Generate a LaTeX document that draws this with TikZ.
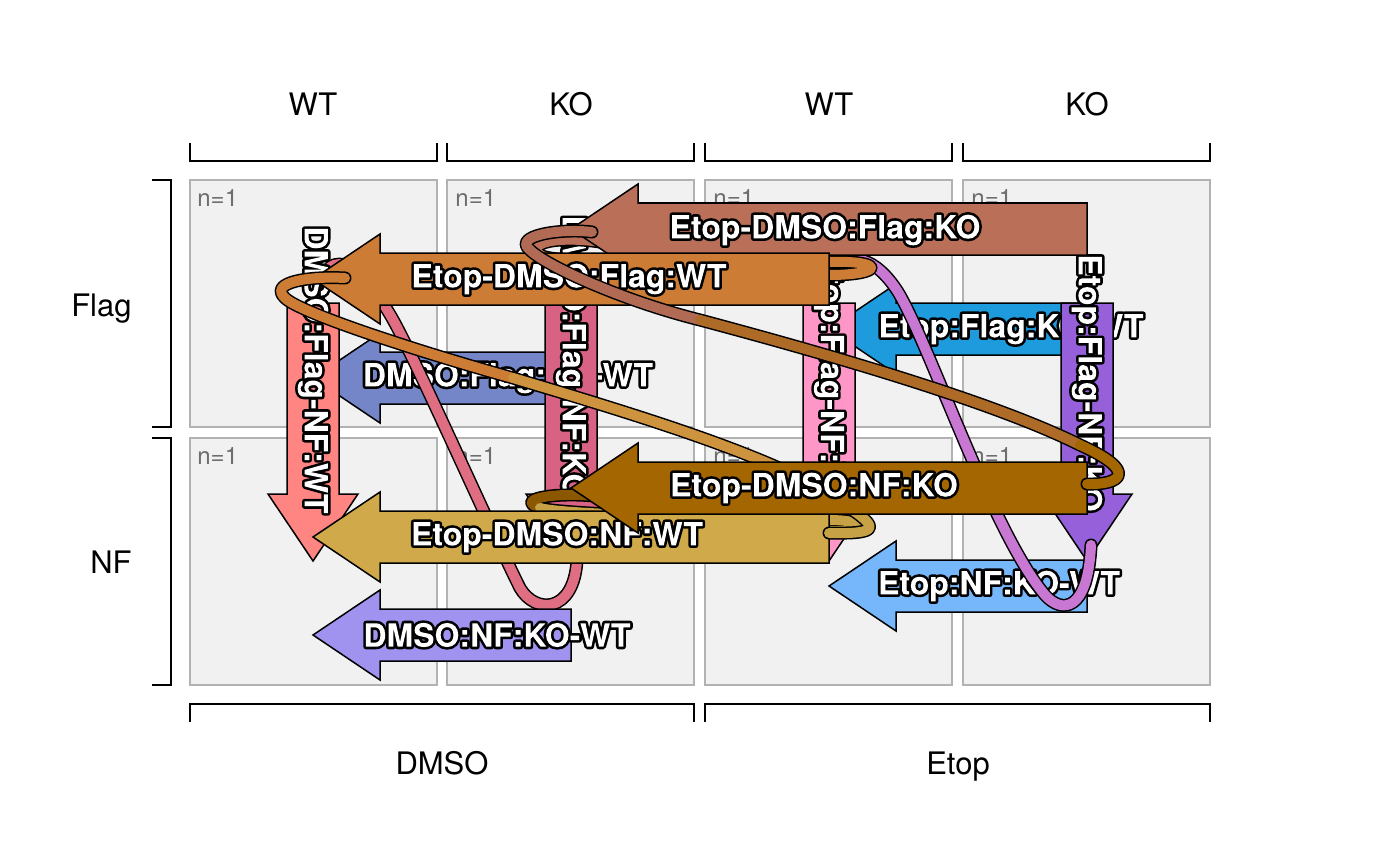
\documentclass[tikz,border=0pt]{standalone}
\usepackage{fontspec}
\setmainfont{TeX Gyre Heros}
\usepackage{xcolor}
\usepackage{tikz}
\usetikzlibrary{positioning}

% panel and axis colours
\definecolor{panelfill}{RGB}{241,241,241}
\definecolor{panelline}{RGB}{178,178,178}
\definecolor{ngray}{RGB}{110,110,110}
% contrast colours
\definecolor{cDFKW}{RGB}{117,134,200}
\definecolor{cEFKW}{RGB}{30,155,220}
\definecolor{cDNKW}{RGB}{160,147,240}
\definecolor{cENKW}{RGB}{118,182,250}
\definecolor{cDFNW}{RGB}{255,133,130}
\definecolor{cDFNK}{RGB}{216,98,132}
\definecolor{cEFNW}{RGB}{255,150,200}
\definecolor{cEFNK}{RGB}{150,96,218}
\definecolor{cEDFK}{RGB}{186,112,88}
\definecolor{cEDFW}{RGB}{204,124,52}
\definecolor{cEDNK}{RGB}{164,102,0}
\definecolor{cEDNW}{RGB}{208,170,74}
\definecolor{cbandP}{RGB}{224,110,130}
\definecolor{cbandO}{RGB}{200,120,210}

\tikzset{
  panel/.style={fill=panelfill, draw=panelline, line width=0.8pt},
  bracket/.style={line width=0.8pt, black},
  axislab/.style={font=\fontsize{15.5}{18}\selectfont, inner sep=0pt},
  nlab/.style={font=\fontsize{12}{14}\selectfont, text=ngray, inner sep=0pt, anchor=base west},
  arrlab/.style={font=\bfseries\fontsize{16}{19}\selectfont, inner sep=0pt},
  fatarrow/.style={draw=black, line width=0.75pt, line join=miter},
  band/.style={line width=6.5pt, draw=black, line cap=round, line join=round},
  bandfill/.style={line width=5pt, line cap=round, line join=round}
}

% white text with a black outline: stroke the glyphs, clip to them, fill white
\newcommand{\halo}[1]{%
  \special{x:gsave}\special{pdf:literal direct 0 0 0 RG 2.6 w 1 j 6 Tr}#1%
  \special{x:gsave}\special{x:grestore}%
  \special{pdf:literal direct 0 Tr 1 1 1 rg -9999 -9999 19998 19998 re f}\special{x:grestore}}
% left pointing block arrow: tail x, tip x, y, colour
\newcommand{\contrastleft}[4]{%
  \filldraw[fatarrow, fill=#4] (#1,#3-26) -- (#2+67,#3-26) -- (#2+67,#3-45) -- (#2,#3)
    -- (#2+67,#3+45) -- (#2+67,#3+26) -- (#1,#3+26) -- cycle;}
% downward block arrow: x, tail y, tip y, colour
\newcommand{\contrastdown}[4]{%
  \filldraw[fatarrow, fill=#4] (#1-26,#2) -- (#1+26,#2) -- (#1+26,#3-67) -- (#1+45,#3-67)
    -- (#1,#3) -- (#1-45,#3-67) -- (#1-26,#3-67) -- cycle;}

\begin{document}
\begin{tikzpicture}[x=0.5pt, y=-0.5pt]

\useasboundingbox (0,0) rectangle (1400,866);
\fill[white] (0,0) rectangle (1400,866);

% Column labels and brackets on top
\node[axislab, anchor=base] (wtA) at (313,116) {WT};
\node[axislab, anchor=base] (koA) at (571,116) {KO};
\node[axislab, anchor=base] (wtB) at (829,116) {WT};
\node[axislab, anchor=base] (koB) at (1087,116) {KO};
\draw[bracket] (190,143) -- (190,161) -- (437,161) -- (437,143);
\draw[bracket] (447,143) -- (447,161) -- (694,161) -- (694,143);
\draw[bracket] (705,143) -- (705,161) -- (952,161) -- (952,143);
\draw[bracket] (963,143) -- (963,161) -- (1210,161) -- (1210,143);

% Treatment labels and brackets below
\draw[bracket] (190,722) -- (190,704) -- (694,704) -- (694,722);
\draw[bracket] (705,722) -- (705,704) -- (1210,704) -- (1210,722);
\node[axislab, anchor=base] (dmso) at (442,774) {DMSO};
\node[axislab, anchor=base] (etop) at (958,774) {Etop};

% Row labels and brackets on the left
\draw[bracket] (152,180) -- (171,180) -- (171,427) -- (152,427);
\draw[bracket] (152,438) -- (171,438) -- (171,685) -- (152,685);
\node[axislab, anchor=base east] (flag) at (132,316) {Flag};
\node[axislab, anchor=base east] (nf) at (132,573) {NF};

% Panels
\draw[panel] (190,180) rectangle (437,427);
\draw[panel] (447,180) rectangle (694,427);
\draw[panel] (705,180) rectangle (952,427);
\draw[panel] (963,180) rectangle (1210,427);
\draw[panel] (190,438) rectangle (437,685);
\draw[panel] (447,438) rectangle (694,685);
\draw[panel] (705,438) rectangle (952,685);
\draw[panel] (963,438) rectangle (1210,685);
\node[nlab] (n11) at (197,206) {n=1};
\node[nlab] (n12) at (455,206) {n=1};
\node[nlab] (n13) at (713,206) {n=1};
\node[nlab] (n14) at (971,206) {n=1};
\node[nlab] (n21) at (197,464) {n=1};
\node[nlab] (n22) at (455,464) {n=1};
\node[nlab] (n23) at (713,464) {n=1};
\node[nlab] (n24) at (971,464) {n=1};

% KO-WT contrasts in the Flag row
\contrastleft{571}{313}{378}{cDFKW}
\node[arrlab] (dfkw) at (508,378) {\halo{DMSO:Flag:KO-WT}};
\contrastleft{1087}{829}{329}{cEFKW}
\node[arrlab] (efkw) at (1011,329) {\halo{Etop:Flag:KO-WT}};

% DMSO interaction band
\draw[band] (318,310) .. controls (318,250) and (350,245) .. (392,318) .. controls (415,358) and (492,532) .. (520,588) .. controls (535,614) and (574,614) .. (577,560) -- (577,535);
\draw[bandfill, cbandP] (318,310) .. controls (318,250) and (350,245) .. (392,318) .. controls (415,358) and (492,532) .. (520,588) .. controls (535,614) and (574,614) .. (577,560) -- (577,535);

% Flag-NF contrasts
\contrastdown{313}{303}{561}{cDFNW}
\node[arrlab, rotate=-90] (dfnw) at (313,370) {\halo{DMSO:Flag-NF:WT}};
\contrastdown{571}{303}{561}{cDFNK}
\node[arrlab, rotate=-90] (dfnk) at (571,357) {\halo{DMSO:Flag-NF:KO}};
\contrastdown{829}{303}{561}{cEFNW}
\node[arrlab, rotate=-90] (efnw) at (829,383) {\halo{Etop:Flag-NF:WT}};
\contrastdown{1087}{303}{561}{cEFNK}
\node[arrlab, rotate=-90] (efnk) at (1087,383) {\halo{Etop:Flag-NF:KO}};

% KO-WT contrasts in the NF row
\contrastleft{571}{313}{635}{cDNKW}
\node[arrlab] (dnkw) at (497,635) {\halo{DMSO:NF:KO-WT}};
\contrastleft{1087}{829}{586}{cENKW}
\node[arrlab] (enkw) at (999,586) {\halo{Etop:NF:KO-WT}};

% Etop interaction band
\draw[band] (835,270) .. controls (850,252) and (875,256) .. (898,292) .. controls (930,345) and (992,532) .. (1045,595) .. controls (1062,614) and (1088,612) .. (1091,545);
\draw[bandfill, cbandO] (835,270) .. controls (850,252) and (875,256) .. (898,292) .. controls (930,345) and (992,532) .. (1045,595) .. controls (1062,614) and (1088,612) .. (1091,545);

% small KO-WT bands between the Etop-DMSO arrows
\draw[band] (600,242) .. controls (560,236) and (525,242) .. (540,255) .. controls (555,265) and (700,263) .. (829,262) .. controls (885,260) and (885,275) .. (829,275);
\draw[bandfill, cEDFK] (600,242) .. controls (560,236) and (525,242) .. (540,255);
\draw[bandfill, cEDFW] (540,255) .. controls (555,265) and (700,263) .. (829,262) .. controls (885,260) and (885,275) .. (829,275);
\draw[band] (595,496) .. controls (550,492) and (515,500) .. (540,508) .. controls (560,514) and (700,518) .. (829,520) .. controls (870,520) and (870,533) .. (829,531);
\draw[bandfill, cEDNK!85!black] (595,496) .. controls (550,492) and (515,500) .. (540,508);
\draw[bandfill, cEDNW!95!black] (540,508) .. controls (560,514) and (700,518) .. (829,520) .. controls (870,520) and (870,533) .. (829,531);

% Etop-DMSO contrasts
\contrastleft{1087}{571}{229}{cEDFK}
\node[arrlab] (edfk) at (825,230) {\halo{Etop-DMSO:Flag:KO}};
\contrastleft{829}{313}{279}{cEDFW}
\node[arrlab] (edfw) at (569,279) {\halo{Etop-DMSO:Flag:WT}};
\contrastleft{829}{313}{537}{cEDNW}
\node[arrlab] (ednw) at (557,537) {\halo{Etop-DMSO:NF:WT}};

% Etop-DMSO Flag-NF band for WT
\draw[band] (345,278) .. controls (310,276) and (268,282) .. (285,298) .. controls (300,313) and (420,352) .. (513,378) .. controls (620,410) and (790,460) .. (845,505) .. controls (880,528) and (880,534) .. (829,533);
\draw[bandfill, cEDFW] (345,278) .. controls (310,276) and (268,282) .. (285,298) .. controls (300,313) and (420,352) .. (513,378);
\draw[bandfill, cEDFW!50!cEDNW] (513,378) .. controls (620,410) and (790,460) .. (845,505);
\draw[bandfill, cEDNW!95!black] (845,505) .. controls (880,528) and (880,534) .. (829,533);

\contrastleft{1087}{571}{488}{cEDNK}
\node[arrlab] (ednk) at (814,488) {\halo{Etop-DMSO:NF:KO}};

% Etop-DMSO Flag-NF band for KO
\draw[band] (592,232) .. controls (560,228) and (512,236) .. (530,250) .. controls (545,265) and (620,300) .. (700,320) .. controls (850,360) and (1000,405) .. (1080,445) .. controls (1140,472) and (1120,485) .. (1087,484);
\draw[bandfill, cEDFK!95!black] (592,232) .. controls (560,228) and (512,236) .. (530,250) .. controls (545,265) and (620,300) .. (700,320);
\draw[bandfill, cEDFK!45!cEDNK] (700,320) .. controls (850,360) and (1000,405) .. (1080,445);
\draw[bandfill, cEDNK] (1080,445) .. controls (1140,472) and (1120,485) .. (1087,484);

\end{tikzpicture}
\end{document}
